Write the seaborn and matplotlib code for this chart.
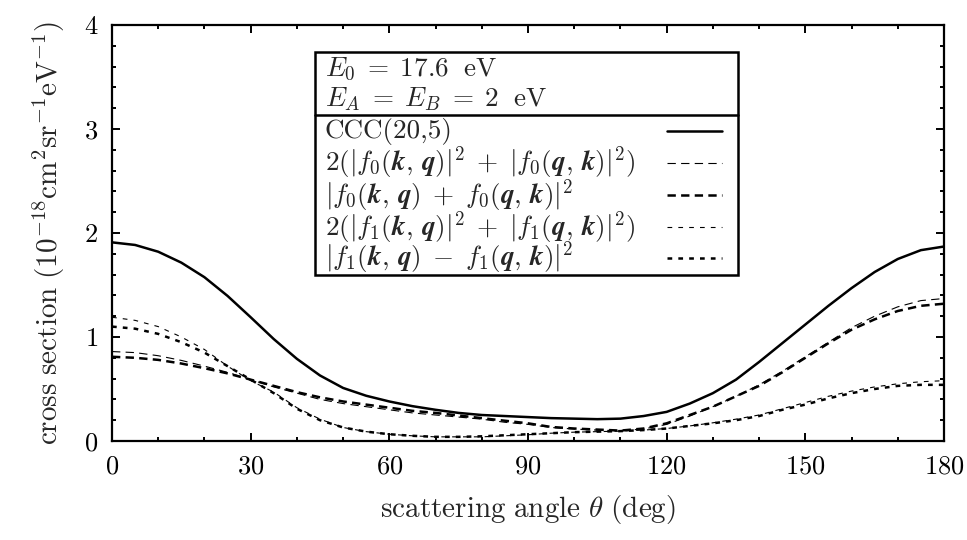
import numpy as np
import pandas as pd
import matplotlib
matplotlib.use("Agg")
import matplotlib.pyplot as plt
from matplotlib.ticker import MultipleLocator
from matplotlib.patches import Rectangle
import seaborn as sns

# ---- data ----
theta = [0, 5, 10, 15, 20, 25, 30, 35, 40, 45, 50, 55, 60, 65, 70, 75, 80, 85, 90,
         95, 100, 105, 110, 115, 120, 125, 130, 135, 140, 145, 150, 155, 160, 165, 170, 175, 180]

ccc = [1.91, 1.885, 1.82, 1.715, 1.575, 1.395, 1.19, 0.98, 0.79, 0.63, 0.51, 0.435, 0.38, 0.335,
       0.30, 0.27, 0.25, 0.24, 0.23, 0.22, 0.215, 0.21, 0.215, 0.24, 0.28, 0.36, 0.46,
       0.59, 0.76, 0.94, 1.12, 1.30, 1.47, 1.625, 1.75, 1.835, 1.87]

f0_sum_sq = [0.86, 0.85, 0.82, 0.775, 0.72, 0.66, 0.59, 0.52, 0.46, 0.40, 0.36, 0.33, 0.30,
             0.27, 0.25, 0.23, 0.21, 0.18, 0.16, 0.13, 0.115, 0.105, 0.10, 0.115, 0.16,
             0.24, 0.33, 0.43, 0.54, 0.67, 0.81, 0.95, 1.09, 1.20, 1.29, 1.35, 1.37]

f0_coh = [0.81, 0.80, 0.78, 0.745, 0.70, 0.65, 0.59, 0.53, 0.47, 0.42, 0.38, 0.35, 0.32,
          0.29, 0.27, 0.245, 0.22, 0.195, 0.17, 0.135, 0.12, 0.11, 0.10, 0.12, 0.17,
          0.25, 0.33, 0.43, 0.53, 0.66, 0.80, 0.94, 1.07, 1.17, 1.25, 1.30, 1.32]

f1_sum_sq = [1.19, 1.16, 1.10, 1.00, 0.88, 0.72, 0.58, 0.47, 0.32, 0.21, 0.13, 0.09, 0.065,
             0.05, 0.04, 0.04, 0.04, 0.05, 0.06, 0.075, 0.085, 0.09, 0.095, 0.105, 0.12,
             0.145, 0.175, 0.21, 0.25, 0.31, 0.37, 0.43, 0.48, 0.52, 0.55, 0.57, 0.58]

f1_coh = [1.10, 1.08, 1.03, 0.95, 0.85, 0.72, 0.59, 0.46, 0.31, 0.20, 0.13, 0.09, 0.065,
          0.05, 0.04, 0.04, 0.045, 0.055, 0.065, 0.075, 0.085, 0.09, 0.095, 0.105, 0.12,
          0.145, 0.17, 0.20, 0.24, 0.30, 0.35, 0.41, 0.46, 0.50, 0.53, 0.54, 0.54]

K = r"\boldsymbol{k}"
Q = r"\boldsymbol{q}"
labels = [
    "CCC(20,5)",
    rf"$2(|f_0({K},\,{Q})|^2\;+\;|f_0({Q},\,{K})|^2)$",
    rf"$|f_0({K},\,{Q})\;+\;f_0({Q},\,{K})|^2$",
    rf"$2(|f_1({K},\,{Q})|^2\;+\;|f_1({Q},\,{K})|^2)$",
    rf"$|f_1({K},\,{Q})\;-\;f_1({Q},\,{K})|^2$",
]
header = [r"$E_0\;=\;17.6\ \ \mathrm{eV}$", r"$E_A\;=\;E_B\;=\;2\ \ \mathrm{eV}$"]
series = [ccc, f0_sum_sq, f0_coh, f1_sum_sq, f1_coh]

# ---- styling ----
sns.set_theme(style="ticks")
plt.rcParams.update({
    "font.family": ["serif"],
    "font.serif": ["cmr10", "DejaVu Serif"],
    "mathtext.fontset": "cm",
    "axes.formatter.use_mathtext": True,
    "axes.unicode_minus": False,
    "lines.scale_dashes": False,
    "font.size": 18,
})

styles = [
    dict(linewidth=1.8, linestyle="-"),
    dict(linewidth=0.8, linestyle=(0, (6.0, 3.8))),
    dict(linewidth=1.8, linestyle=(0, (6.0, 3.8))),
    dict(linewidth=0.8, linestyle=(0, (3.4, 4.4))),
    dict(linewidth=1.8, linestyle=(0, (3.4, 4.4))),
]

fig = plt.figure(figsize=(9.67, 5.40), dpi=100)
ax = fig.add_axes([112 / 967, 99 / 540, 832 / 967, 416 / 540])

for ys, st in zip(series, styles):
    df = pd.DataFrame({"theta": theta, "cs": ys})
    sns.lineplot(data=df, x="theta", y="cs", ax=ax, color="black",
                 estimator=None, errorbar=None, **st)

ax.set_xlim(0, 180)
ax.set_ylim(0, 4)
ax.xaxis.set_major_locator(MultipleLocator(30))
ax.xaxis.set_minor_locator(MultipleLocator(10))
ax.yaxis.set_major_locator(MultipleLocator(1))
ax.yaxis.set_minor_locator(MultipleLocator(0.2))
ax.tick_params(which="both", direction="in", top=True, right=True, width=1.4,
               labelsize=19, colors="black")
ax.tick_params(which="major", length=6, pad=10)
ax.tick_params(which="minor", length=3)
for s in ax.spines.values():
    s.set_linewidth(1.6)
    s.set_color("black")

ax.set_xlabel(r"$\mathrm{scattering\ angle\ }\theta\ \mathrm{(deg)}$", fontsize=21, labelpad=10)
ax.set_ylabel(r"$\mathrm{cross\ section\ (10^{-18}cm^{2}sr^{-1}eV^{-1})}$", fontsize=21, labelpad=12)

# ---- gnuplot-style key box ----
bx0, bx1 = 0.244, 0.752
by0, bsep, by1 = 0.399, 0.784, 0.935
ax.add_patch(Rectangle((bx0, by0), bx1 - bx0, by1 - by0, transform=ax.transAxes,
                       fill=True, facecolor="white", edgecolor="black", linewidth=1.8, zorder=5))
ax.plot([bx0, bx1], [bsep, bsep], transform=ax.transAxes, color="black", lw=1.8, zorder=6)

tx = 0.256
for txt, yy in zip(header, [0.895, 0.822]):
    ax.text(tx, yy, txt, transform=ax.transAxes, ha="left", va="center", fontsize=19.5, zorder=7)
rows = [0.745, 0.668, 0.591, 0.514, 0.440]
for txt, yy, st in zip(labels, rows, styles):
    ax.text(tx, yy, txt, transform=ax.transAxes, ha="left", va="center", fontsize=19.5, zorder=7)
    ax.plot([0.667, 0.733], [yy, yy], transform=ax.transAxes, color="black", zorder=7, **st)

fig.savefig("out.png", dpi=100)
